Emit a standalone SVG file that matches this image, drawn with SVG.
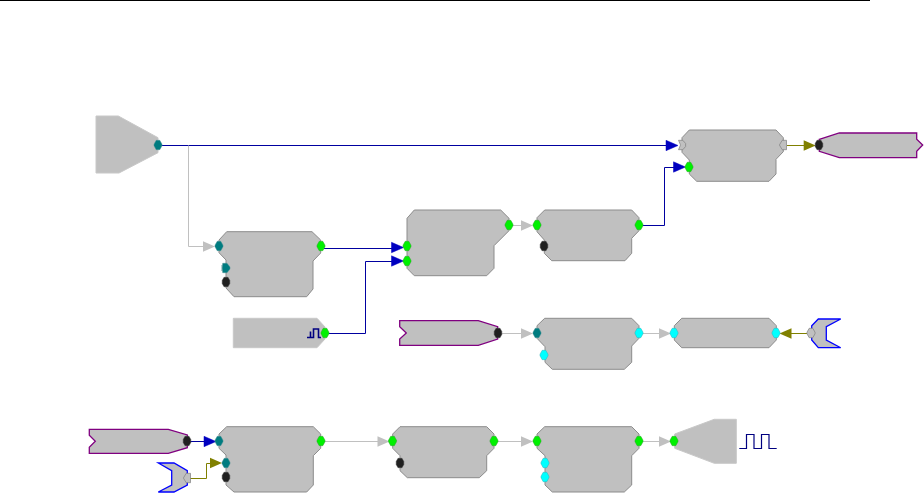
<svg xmlns="http://www.w3.org/2000/svg" width="924" height="493" viewBox="0 0 924 493">
<style>
.b{fill:#c0c0c0;stroke:#8c8c8c;stroke-width:1}
.s{fill:#c0c0c0;stroke:#c8c8c8;stroke-width:1}
.pu{fill:#c0c0c0;stroke:#800080;stroke-width:1.3}
.bl{fill:#c0c0c0;stroke:#0000ff;stroke-width:1.3}
.w{fill:none;stroke-width:1}
.wb{stroke:#0000a0}
.wg{stroke:#c0c0c0}
.wo{stroke:#808000}
.ab{fill:#0000c0;stroke:#0000c0;stroke-width:.5}
.ag{fill:#c0c0c0}
.ao{fill:#808000}
.t{fill:#007c80;stroke:#4f9294;stroke-width:.5}
.g{fill:#00f000;stroke:#30a030;stroke-width:.5}
.k{fill:#202020;stroke:#404040;stroke-width:.5}
.c{fill:#00ffff;stroke:#30b0b8;stroke-width:.5}
.y{fill:#c0c0c0;stroke:#808080;stroke-width:.7}
.gl{fill:none;stroke:#000080;stroke-width:1.2}
.gh{fill:none;stroke:#000080;stroke-width:1.6}
</style>
<defs>
<path id="h" d="M-4-.8-1.800-4.700H1.800L4-.8V.8L1.800 4.700H-1.800L-4 .8Z"/>
<path id="r" d="M-3.300-4.700H1L4-1V1L1 4.700H-3.300L-4-3V3Z"/>
<path id="o" d="M-3.800-1.500-2-4.700H2L3.800-1.500V1.500L2 4.700H-2L-3.800 1.500Z"/>
<path id="n" d="M-3.500-4.700H.8L3.600-1.500V1.500L.8 4.700H-3.500L-1.500 0Z"/>
<path id="l" d="M3.500-4.700H-.8L-3.600 0-.8 4.700H3.500Z"/>
<path id="a" d="M0 0-12-5.200V5.200Z"/>
</defs>
<path d="M0 .5H870" stroke="#000" stroke-width="1" fill="none"/>
<g id="connectors">
<path class="w wb" d="M162 145.500H668"/>
<path class="w wg" d="M188.500 145.500V246.500H204"/>
<path class="w wb" d="M324 248.500H392"/>
<path class="w wb" d="M328 333.500H365.500V261.500H392"/>
<path class="w wg" d="M512 225.500H524"/>
<path class="w wb" d="M642 225.500H664.500V167.500H674"/>
<path class="w wo" d="M787 145.500H804"/>
<path class="w wg" d="M501 333.500H524"/>
<path class="w wg" d="M642 333.500H659"/>
<path class="w wo" d="M791 333.500H808"/>
<path class="w wb" d="M190 441.500H204"/>
<path class="w wo" d="M190 478.500H206.500V463.500H211"/>
<path class="w wg" d="M324 441.500H378"/>
<path class="w wg" d="M497 441.500H522"/>
<path class="w wg" d="M642 441.500H660"/>
<use href="#a" class="ag" transform="translate(215,246.500)"/>
<use href="#a" class="ab" transform="translate(403.500,247.500)"/>
<use href="#a" class="ab" transform="translate(403.500,261)"/>
<use href="#a" class="ag" transform="translate(533,225.500)"/>
<use href="#a" class="ab" transform="translate(678,145.500)"/>
<use href="#a" class="ab" transform="translate(685.500,167)"/>
<use href="#a" class="ao" transform="translate(815.700,145.500)"/>
<use href="#a" class="ag" transform="translate(533,333.500)"/>
<use href="#a" class="ag" transform="translate(671,333.500)"/>
<use href="#a" class="ao" transform="translate(779.500,333.500) rotate(180)"/>
<use href="#a" class="ab" transform="translate(216,441.500)"/>
<use href="#a" class="ao" transform="translate(222,463)"/>
<use href="#a" class="ag" transform="translate(389.500,441.500)"/>
<use href="#a" class="ag" transform="translate(533,441.500)"/>
<use href="#a" class="ag" transform="translate(671,441.500)"/>
</g>
<g id="source-1">
<path class="s" d="M96 116H118.300L158 137.700V152.700L119 173H96Z"/>
<use href="#h" class="t" x="158" y="145"/>
</g>
<g id="block-1">
<path class="b" d="M226.700 231.700H312L320.700 240V253L313 261V289L306.700 296.700H234L226 288V260L219 252.700V240Z"/>
<use href="#h" class="t" x="219" y="246"/>
<use href="#r" class="t" x="226" y="268"/>
<use href="#o" class="k" x="226" y="282"/>
<use href="#h" class="g" x="321" y="246"/>
</g>
<g id="block-2">
<path class="b" d="M414.300 210H500.700L509 218.300V230.700L494 245.700V268.300L486.700 275.700H414.300L407 268.300V218.300Z"/>
<use href="#h" class="g" x="509" y="225"/>
<use href="#h" class="g" x="407" y="246"/>
<use href="#h" class="g" x="407" y="261"/>
</g>
<g id="block-3">
<path class="b" d="M544.700 210H631.700L639 217.700V230.700L631.700 238.300V253.300L625 260.700H551.700L544.300 253.300V240L537 231.700V217.700Z"/>
<use href="#h" class="g" x="537" y="225"/>
<use href="#h" class="g" x="639" y="225"/>
<use href="#o" class="k" x="544" y="246"/>
</g>
<g id="block-top-right">
<path class="b" d="M689.300 130H776L783.300 137.700V151.700L776 159.300V174L769 181.300H696.700L689.300 174V160L682 152.300V137.700Z"/>
<use href="#n" class="y" x="682" y="145"/>
<use href="#l" class="y" x="783" y="145"/>
<use href="#h" class="g" x="689" y="167"/>
</g>
<g id="sink-top-right">
<path class="pu" d="M819.300 139.300 839.300 133H916.700V139.300L922.700 145 916.700 151.300V157.700H839.300L819.300 151.300Z"/>
<use href="#o" class="k" x="819" y="145"/>
</g>
<g id="pulse-source">
<path class="s" d="M233.300 318.300H317L325 327V339L317 347.700H233.300Z"/>
<path class="gh" d="M307 337.500H313.500V329H318.500V337.500H321M310.500 337.500V331.500"/>
<use href="#h" class="g" x="325" y="333"/>
</g>
<g id="source-2">
<path class="pu" d="M399.700 320.700H478.300L497.700 326.700V339L478.300 345.300H399.700V339L406.300 333 399.700 326.700Z"/>
<use href="#o" class="k" x="498" y="333"/>
</g>
<g id="block-4">
<path class="b" d="M544.700 318.300H631.700L639 325.700V338.300L631.700 346V362.300L624.300 369.300H552.300L545 362.300V346.700L537 338.300V325.700Z"/>
<use href="#h" class="t" x="537" y="333"/>
<use href="#h" class="c" x="639" y="333"/>
<use href="#h" class="c" x="544" y="355"/>
</g>
<g id="block-5">
<path class="b" d="M681.700 318.300H769L776.300 325.700V340L769 347.700H681.700L674.300 340V325.700Z"/>
<use href="#h" class="c" x="674" y="333"/>
<use href="#h" class="c" x="776" y="333"/>
</g>
<g id="input-1">
<path class="bl" d="M818.300 319H840.700L826.300 326.700V340L840.700 347.700H818.300L811.700 340V325.700Z"/>
<use href="#h" class="y" x="811" y="333"/>
</g>
<g id="source-3">
<path class="pu" d="M89.300 429.300H168.300L187.300 435V447.700L168.300 453.300H89.300V447.300L95.300 441.300 89.300 435.300Z"/>
<use href="#o" class="k" x="187" y="441"/>
</g>
<g id="input-2">
<path class="bl" d="M158.300 463H174L187.300 470.700V485L174 492H158.300L171.700 485V470.700Z"/>
<use href="#l" class="y" x="187" y="478"/>
</g>
<g id="block-6">
<path class="b" d="M226.700 426.700H313.300L320.700 434V448.300L313.300 455.700V485L306.700 492H234L226 485V455L219 448.300V434Z"/>
<use href="#h" class="t" x="219" y="441"/>
<use href="#h" class="t" x="226" y="463"/>
<use href="#o" class="k" x="226" y="477"/>
<use href="#h" class="g" x="321" y="441"/>
</g>
<g id="block-7">
<path class="b" d="M400 426.700H486.700L494 434V448.300L486.700 455.700V470.700L479.300 477.700H407.300L400 470.700V455.700L392.700 448.300V434Z"/>
<use href="#h" class="g" x="392.500" y="441"/>
<use href="#h" class="g" x="494" y="441"/>
<use href="#o" class="k" x="400" y="463"/>
</g>
<g id="block-8">
<path class="b" d="M544.700 426.700H631.700L639 434V448.300L631.700 455.700V485L624.300 492H552.300L545 485V455.700L537 448.300V434Z"/>
<use href="#h" class="g" x="537" y="441"/>
<use href="#h" class="g" x="639" y="441"/>
<use href="#h" class="c" x="545" y="463"/>
<use href="#h" class="c" x="545" y="477"/>
</g>
<g id="sink-pulse">
<path class="s" d="M674.700 434 714.300 419.300H736.300V463.300H714.300L674.700 448.300Z"/>
<use href="#h" class="g" x="674" y="441"/>
<path class="gl" d="M739.300 448.500H746.500V434.500H754V448.500H761.500V434.500H769V448.500H776.700"/>
</g>
</svg>
